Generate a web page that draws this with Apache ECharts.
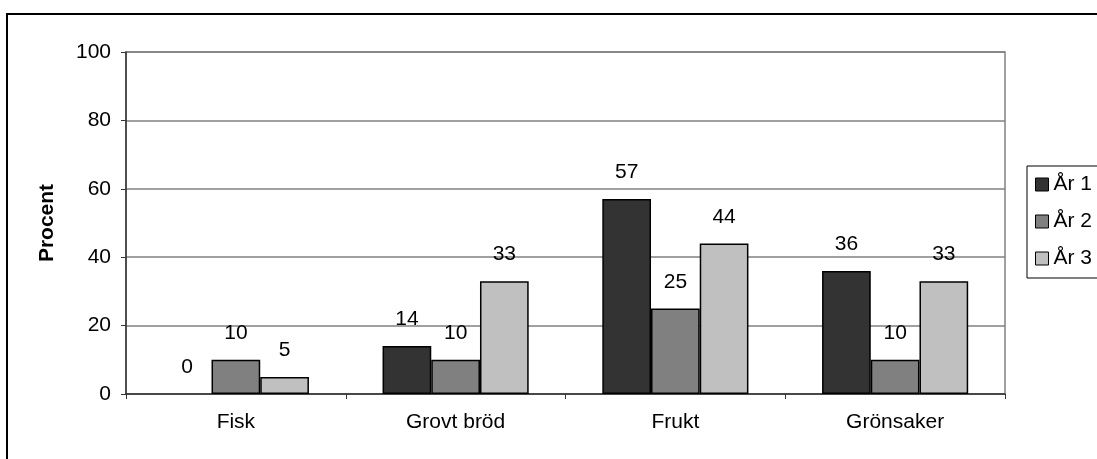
<!DOCTYPE html>
<html>
<head>
<meta charset="utf-8">
<script src="https://cdn.jsdelivr.net/npm/echarts@6/dist/echarts.min.js"></script>
<style>
  html, body { margin: 0; padding: 0; background: #fff; }
  #chart { width: 1097px; height: 459px; }
</style>
</head>
<body>
<div id="chart"></div>
<script>
// Kategorier och andel (procent) per år
const categories = ['Fisk', 'Grovt bröd', 'Frukt', 'Grönsaker'];
const ar1 = [0, 14, 57, 36];
const ar2 = [10, 10, 25, 10];
const ar3 = [5, 33, 44, 33];
const seriesNames = ['År 1', 'År 2', 'År 3'];
const seriesColors = ['#333333', '#808080', '#c0c0c0'];
const yTicks = { min: 0, max: 100, step: 20 };

const font = '"Liberation Sans", Arial, sans-serif';
const fs = 21;
const chart = echarts.init(document.getElementById('chart'));

// A zero-height bar gets no outline, so it stays invisible
function toItems(data) {
  return data.map(v => v === 0 ? { value: v, itemStyle: { borderWidth: 0 } } : v);
}

function barSeries(name, data, color) {
  return {
    name: name,
    type: 'bar',
    data: toItems(data),
    barGap: '0%',
    barCategoryGap: '33.5%',
    itemStyle: { color: color, borderColor: '#000', borderWidth: 1.5 },
    label: {
      show: true,
      position: 'top',
      distance: 16,
      color: '#000',
      fontFamily: font,
      fontSize: fs
    }
  };
}

chart.setOption({
  animation: false,
  backgroundColor: '#fff',
  graphic: [{
    type: 'rect',
    shape: { x: 7, y: 14, width: 1200, height: 500 },
    style: { fill: 'none', stroke: '#000', lineWidth: 2 },
    silent: true
  }],
  grid: {
    left: 126, right: 92, top: 52, bottom: 65,
    show: true, borderColor: '#808080', borderWidth: 1.5, backgroundColor: '#fff'
  },
  legend: {
    orient: 'vertical',
    left: 1027, top: 166,
    padding: [8, 40, 9, 8],
    itemGap: 16,
    itemWidth: 13, itemHeight: 13,
    icon: 'rect',
    borderColor: '#000', borderWidth: 1,
    backgroundColor: '#fff',
    textStyle: { color: '#000', fontFamily: font, fontSize: fs, padding: [0, 0, 0, 0] },
    data: seriesNames.map((n, i) => ({
      name: n,
      itemStyle: { color: seriesColors[i], borderColor: '#000', borderWidth: 1 }
    }))
  },
  xAxis: {
    type: 'category',
    data: categories,
    axisLine: { lineStyle: { color: '#333', width: 1.5 } },
    axisTick: { show: true, length: 5, lineStyle: { color: '#333' } },
    axisLabel: { color: '#000', fontFamily: font, fontSize: fs, margin: 18 }
  },
  yAxis: {
    type: 'value',
    min: yTicks.min, max: yTicks.max, interval: yTicks.step,
    name: 'Procent',
    nameLocation: 'middle',
    nameGap: 68,
    nameTextStyle: { color: '#000', fontFamily: font, fontSize: fs, fontWeight: 'bold' },
    axisLine: { show: true, lineStyle: { color: '#333', width: 1.5 } },
    axisTick: { show: true, length: 5, lineStyle: { color: '#333' } },
    axisLabel: { color: '#000', fontFamily: font, fontSize: fs, margin: 15 },
    splitLine: { show: true, lineStyle: { color: '#808080', width: 1.5 } }
  },
  series: [
    barSeries(seriesNames[0], ar1, seriesColors[0]),
    barSeries(seriesNames[1], ar2, seriesColors[1]),
    barSeries(seriesNames[2], ar3, seriesColors[2])
  ]
});
</script>
</body>
</html>
